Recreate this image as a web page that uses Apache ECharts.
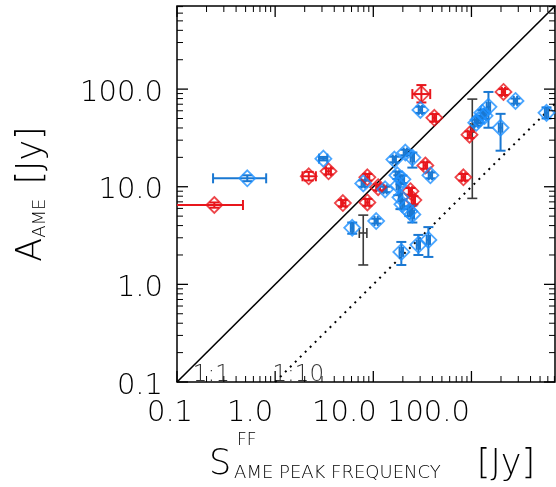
<!DOCTYPE html>
<html><head><meta charset="utf-8">
<script src="https://cdn.jsdelivr.net/npm/echarts@6/dist/echarts.min.js"></script>
<style>html,body{margin:0;padding:0;background:#fff}#c{width:556px;height:487px}</style>
</head><body><div id="c"></div>
<script>
// ---- data ----
const majorTicks = [0.1, 1, 10, 100];
const tickLabels = ['0.1', '1.0', '10.0', '100.0'];
const minorTicks = [0.2,0.3,0.4,0.5,0.6,0.7,0.8,0.9, 2,3,4,5,6,7,8,9, 20,30,40,50,60,70,80,90, 200,300,400,500,600,700];
// [x, y, xLow, xHigh, yLow, yHigh]
const redPts = [
  [0.24, 6.5, 0.05, 0.47, 6.1, 6.9],
  [2.2, 12.8, 1.9, 2.6, 11.6, 14.2],
  [3.5, 14.4, 3.3, 3.7, 13.4, 15.4],
  [4.9, 6.8, 4.7, 5.2, 6.3, 7.3],
  [8.7, 6.9, 8.3, 9.1, 6.4, 7.5],
  [8.7, 12.5, 8.3, 9.1, 11.6, 13.5],
  [11.2, 9.9, 10.7, 11.7, 9.2, 10.6],
  [23.9, 9.0, 23.0, 24.8, 8.3, 9.7],
  [25.6, 7.3, 24.6, 26.6, 6.6, 8.0],
  [33.9, 16.5, 32.5, 35.3, 15.3, 17.8],
  [41.9, 50.8, 40.3, 43.6, 46.5, 55.5],
  [30.9, 89, 25.0, 38.0, 73, 110],
  [82.8, 12.5, 79.5, 86.2, 11.6, 13.5],
  [95.5, 34.1, 91.7, 99.4, 31.6, 36.8],
  [212, 93.5, 204, 220, 87, 100]
];
const bluePts = [
  [0.52, 12.2, 0.233, 0.81, 11.4, 13.1],
  [3.1, 19.4, 2.8, 3.4, 18.6, 20.2],
  [30.2, 61.2, 29, 31.4, 57, 66],
  [582, 57.1, 560, 605, 50, 65],
  [281, 75.7, 270, 292, 71, 80],
  [149, 65.8, 143, 155, 40.2, 93.5],
  [129, 57.1, 124, 134, 53, 61],
  [118, 48.5, 113, 123, 45, 52],
  [112, 45.2, 108, 116, 42, 48.5],
  [198, 40.2, 190, 206, 23.4, 55.8],
  [136, 53.2, 131, 141, 49.5, 57],
  [7.9, 10.8, 7.6, 8.2, 10.0, 11.6],
  [13.2, 9.4, 12.7, 13.7, 8.8, 10.0],
  [16.4, 19.0, 15.8, 17.0, 17.8, 20.3],
  [21.2, 22.4, 20.4, 22.0, 21.0, 23.9],
  [25.0, 19.9, 24.0, 26.0, 15.7, 22.4],
  [38.2, 13.1, 36.7, 39.7, 12.2, 14.0],
  [17.6, 13.1, 16.9, 18.3, 12.0, 14.3],
  [19.8, 11.9, 19.0, 20.6, 10.9, 13.0],
  [18.9, 7.8, 18.2, 19.6, 5.9, 10.6],
  [19.8, 6.6, 19.0, 20.6, 5.9, 7.4],
  [23.3, 5.6, 22.4, 24.2, 5.0, 6.3],
  [25.0, 5.2, 24.0, 26.0, 4.3, 6.4],
  [6.1, 3.8, 5.9, 6.3, 3.3, 4.3],
  [10.7, 4.45, 10.3, 11.1, 4.2, 4.7],
  [19.3, 2.15, 18.5, 20.1, 1.58, 2.72],
  [28.8, 2.54, 27.7, 29.9, 2.0, 3.21],
  [36.4, 2.85, 35.0, 37.8, 1.91, 3.86],
  [18.0, 10.3, 17.3, 18.7, 8.2, 13.1]
];
const blackBars = [
  [102, 40, 98, 106, 7.6, 79],
  [7.9, 3.36, 7.2, 8.6, 1.58, 5.12]
];
const oneToOne = [[0.1, 0.1], [710, 710]];
const oneToTen = [[1, 0.1], [710, 71]];
const lineLabels = [{name: '1:1', value: [0.224, 0.117]}, {name: '1:10', value: [1.72, 0.117]}];

// ---- styling ----
const FONT = 'DejaVu Sans';
const FW = 200;
const AX_MIN = 0.1, AX_MAX = 710;
const RED = '#e8161c', BLUE = '#1e90ff', BLUE_BAR = '#1a78d2', BLACK_BAR = '#3a3a3a';

function errRender(color, lw) {
  return function (params, api) {
    const x = api.value(0), y = api.value(1);
    const xl = api.value(2), xh = api.value(3), yl = api.value(4), yh = api.value(5);
    const pL = api.coord([xl, y]), pR = api.coord([xh, y]);
    const pB = api.coord([x, yl]), pT = api.coord([x, yh]);
    const c = 5;
    const st = {stroke: color, lineWidth: lw, fill: null};
    const ch = [];
    ch.push({type: 'line', shape: {x1: pB[0], y1: pB[1], x2: pT[0], y2: pT[1]}, style: st});
    ch.push({type: 'line', shape: {x1: pB[0] - c, y1: pB[1], x2: pB[0] + c, y2: pB[1]}, style: st});
    ch.push({type: 'line', shape: {x1: pT[0] - c, y1: pT[1], x2: pT[0] + c, y2: pT[1]}, style: st});
    ch.push({type: 'line', shape: {x1: pL[0], y1: pL[1], x2: pR[0], y2: pR[1]}, style: st});
    ch.push({type: 'line', shape: {x1: pL[0], y1: pL[1] - c, x2: pL[0], y2: pL[1] + c}, style: st});
    ch.push({type: 'line', shape: {x1: pR[0], y1: pR[1] - c, x2: pR[0], y2: pR[1] + c}, style: st});
    return {type: 'group', children: ch};
  };
}

// ticks on all four sides, placed through the axes' log scales
const tickData = majorTicks.map(v => [v, v, 11]).concat(minorTicks.map(v => [v, v, 6]));
function tickRender(params, api) {
  const v = api.value(0), L = api.value(2);
  const b = api.coord([v, AX_MIN]), t = api.coord([v, AX_MAX]);
  const l = api.coord([AX_MIN, v]), r = api.coord([AX_MAX, v]);
  const st = {stroke: '#000', lineWidth: L > 8 ? 1.3 : 1};
  return {type: 'group', children: [
    {type: 'line', shape: {x1: b[0], y1: b[1], x2: b[0], y2: b[1] - L}, style: st},
    {type: 'line', shape: {x1: t[0], y1: t[1], x2: t[0], y2: t[1] + L}, style: st},
    {type: 'line', shape: {x1: l[0], y1: l[1], x2: l[0] + L, y2: l[1]}, style: st},
    {type: 'line', shape: {x1: r[0], y1: r[1], x2: r[0] - L, y2: r[1]}, style: st}
  ]};
}

const txt = {fontFamily: FONT, fontWeight: FW, fontSize: 29, color: '#000'};
const xShift = ['a', 'b', 'c', 'd'];
const lblIndex = v => Math.round(Math.log10(v)) + 1;

const chart = echarts.init(document.getElementById('c'), null, {renderer: 'canvas'});
chart.setOption({
  backgroundColor: '#fff',
  animation: false,
  grid: {left: 177, top: 6, width: 378, height: 378, containLabel: false,
    show: true, borderColor: '#000', borderWidth: 1.5, backgroundColor: 'transparent'},
  xAxis: {
    type: 'log', logBase: 10, min: AX_MIN, max: AX_MAX,
    splitLine: {show: false}, axisLine: {show: false}, axisTick: {show: false},
    axisLabel: {
      show: true, customValues: majorTicks, margin: 17,
      formatter: v => '{' + xShift[lblIndex(v)] + '|' + tickLabels[lblIndex(v)] + '}',
      rich: {
        a: Object.assign({padding: [0, 14, 0, 0]}, txt),
        b: Object.assign({padding: [0, 50, 0, 0]}, txt),
        c: Object.assign({padding: [0, 58, 0, 0]}, txt),
        d: Object.assign({padding: [0, 86, 0, 0]}, txt)
      }
    },
    name: '{m|S}{s|AME PEAK FREQUENCY}{g| }{m|[Jy]}',
    nameLocation: 'middle', nameGap: 60,
    nameTextStyle: {
      padding: [0, 0, 0, 12],
      rich: {
        m: {fontFamily: FONT, fontWeight: FW, fontSize: 35, color: '#000', verticalAlign: 'bottom', lineHeight: 40},
        s: {fontFamily: FONT, fontWeight: FW, fontSize: 18, color: '#000', verticalAlign: 'bottom', lineHeight: 24, padding: [0, 0, 0, 3]},
        g: {fontSize: 34, width: 36}
      }
    }
  },
  yAxis: {
    type: 'log', logBase: 10, min: AX_MIN, max: AX_MAX,
    splitLine: {show: false}, axisLine: {show: false}, axisTick: {show: false},
    axisLabel: {
      show: true, customValues: majorTicks, margin: 14,
      formatter: v => '{y|' + tickLabels[lblIndex(v)] + '}',
      rich: {y: Object.assign({padding: [8, 0, 0, 0]}, txt)}
    },
    name: '{m|A}{s|AME}{g| }{m|[Jy]}',
    nameLocation: 'middle', nameGap: 128, nameRotate: 90,
    nameTextStyle: {
      rich: {
        m: {fontFamily: FONT, fontWeight: FW, fontSize: 35, color: '#000', verticalAlign: 'bottom', lineHeight: 40},
        s: {fontFamily: FONT, fontWeight: FW, fontSize: 18, color: '#000', verticalAlign: 'bottom', lineHeight: 24},
        g: {fontSize: 34, width: 14}
      }
    }
  },
  graphic: [{
    type: 'text', left: 237, top: 432,
    style: {text: 'FF', font: '200 17px "DejaVu Sans"', fill: '#000'}
  }],
  series: [
    {type: 'custom', data: tickData, renderItem: tickRender, clip: false, encode: {x: 0, y: 1}, silent: true, z: 5},
    {type: 'line', data: oneToOne, showSymbol: false, symbol: 'none', lineStyle: {color: '#000', width: 1.6}, z: 1},
    {type: 'line', data: oneToTen, showSymbol: false, symbol: 'none', lineStyle: {color: '#000', width: 2, type: [2, 5]}, z: 1},
    {type: 'scatter', data: lineLabels, symbolSize: 0,
      label: {show: true, formatter: '{b}', position: 'inside', fontFamily: FONT, fontWeight: FW, fontSize: 23, color: '#000'}},
    {type: 'custom', data: blackBars, renderItem: errRender(BLACK_BAR, 1.6), clip: true, encode: {x: 0, y: 1}, z: 2},
    {type: 'custom', data: redPts, renderItem: errRender(RED, 2), clip: true, encode: {x: 0, y: 1}, z: 2},
    {type: 'custom', data: bluePts, renderItem: errRender(BLUE_BAR, 2), clip: true, encode: {x: 0, y: 1}, z: 2},
    {type: 'scatter', data: redPts.map(p => [p[0], p[1]]), symbol: 'diamond', symbolSize: 16,
      itemStyle: {color: 'rgba(0,0,0,0)', borderColor: RED, borderWidth: 1.8}, z: 3},
    {type: 'scatter', data: bluePts.map(p => [p[0], p[1]]), symbol: 'diamond', symbolSize: 16,
      itemStyle: {color: 'rgba(0,0,0,0)', borderColor: BLUE, borderWidth: 1.8}, z: 3}
  ]
});
</script>
</body></html>
